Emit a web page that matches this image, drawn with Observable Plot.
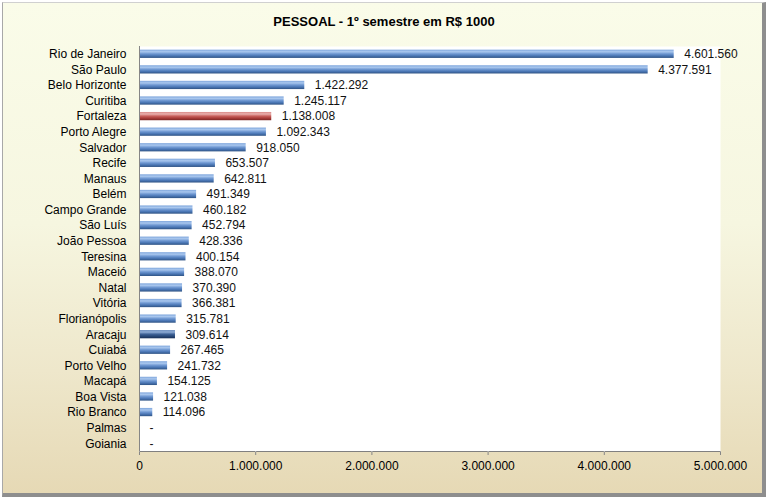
<!DOCTYPE html>
<html><head><meta charset="utf-8">
<script src="https://cdn.jsdelivr.net/npm/d3@7"></script>
<script src="https://cdn.jsdelivr.net/npm/@observablehq/plot@0.6"></script>
<style>
body{margin:0;background:#fff;}
#panel{position:relative;width:768px;height:500px;overflow:hidden;}
#bg{position:absolute;left:2px;top:2px;width:759px;height:490px;border-left:1px solid #a8a8a8;border-top:1px solid #d0d0d0;border-right:4px solid #8e8e8e;border-bottom:4px solid #8e8e8e;
 background:linear-gradient(to bottom,#fafce9 0%,#f6f6e0 45%,#eee7cb 75%,#e6d9b5 100%);}
#title{position:relative;height:40px;font:bold 13px "Liberation Sans",sans-serif;line-height:44px;text-align:center;color:#000;}
#chart{position:relative;height:460px;}
</style></head>
<body>
<div id="panel"><div id="bg"></div>
<div id="title">PESSOAL - 1º semestre em R$ 1000</div>
<div id="chart"></div>
</div>
<script>
const cities = ["Rio de Janeiro","São Paulo","Belo Horizonte","Curitiba","Fortaleza","Porto Alegre","Salvador","Recife","Manaus","Belém","Campo Grande","São Luís","João Pessoa","Teresina","Maceió","Natal","Vitória","Florianópolis","Aracaju","Cuiabá","Porto Velho","Macapá","Boa Vista","Rio Branco","Palmas","Goiania"];
const values = [4601560,4377591,1422292,1245117,1138008,1092343,918050,653507,642811,491349,460182,452794,428336,400154,388070,370390,366381,315781,309614,267465,241732,154125,121038,114096,0,0];
const xTicks = [0,1000000,2000000,3000000,4000000,5000000];
const highlightRed = "Fortaleza";
const highlightNavy = "Aracaju";

const data = cities.map((c,i)=>({city:c,value:values[i],kind:c===highlightRed?"k2":c===highlightNavy?"k3":"k1"}));
const num = v => d3.format(",")(v).replace(/,/g,".");
const lab = v => v===0 ? "-" : num(v);

const chart = Plot.plot({
  width:768,height:460,
  marginLeft:139,marginRight:48,marginTop:6,marginBottom:49,
  style:{background:"transparent",fontFamily:"Liberation Sans, sans-serif",fontSize:"12px",color:"#000"},
  x:{domain:[0,5000000],ticks:xTicks,tickFormat:num,label:null,tickSize:4,tickPadding:6,line:true},
  y:{domain:cities,paddingInner:0.47,paddingOuter:0.235,round:false,label:null,tickSize:0,tickPadding:13},
  color:{type:"ordinal",domain:["k1","k2","k3"],range:["#4f81bd","#c0504d","#1f497d"]},
  marks:[
    Plot.frame({fill:"white",stroke:null}),
    Plot.barX(data,{x:"value",y:"city",fill:"kind"}),
    Plot.text(data,{x:"value",y:"city",text:d=>lab(d.value),textAnchor:"start",dx:10,fill:"#111"}),
    Plot.ruleX([0],{stroke:"#868686"})
  ]
});
document.getElementById("chart").appendChild(chart);

const svg = d3.select(chart);
svg.selectAll("[aria-label='x-axis tick'], [aria-label='x-axis line']").attr("stroke","#868686");
const defs = svg.insert("defs",":first-child");
function grad(id,stops){
  const g = defs.append("linearGradient").attr("id",id).attr("x1",0).attr("y1",0).attr("x2",0).attr("y2",1);
  stops.forEach(([o,c])=>g.append("stop").attr("offset",o).attr("stop-color",c));
}
grad("gblue",[[0,"#7fa6dc"],[0.25,"#a9c7ee"],[0.5,"#6f98d2"],[0.75,"#4a76b4"],[1,"#2f5384"]]);
grad("gred",[[0,"#d88a87"],[0.25,"#e9b0ae"],[0.5,"#c9615d"],[0.75,"#a93c39"],[1,"#7a2624"]]);
grad("gnavy",[[0,"#6a8cbd"],[0.25,"#8fabd4"],[0.5,"#3f6398"],[0.75,"#284878"],[1,"#1a3158"]]);
const map = {"#4f81bd":"url(#gblue)","#c0504d":"url(#gred)","#1f497d":"url(#gnavy)"};
svg.selectAll("[aria-label='bar'] rect").each(function(){
  const f = (this.getAttribute("fill")||"").toLowerCase();
  if (map[f]) this.setAttribute("fill",map[f]);
});
</script>
</body></html>
